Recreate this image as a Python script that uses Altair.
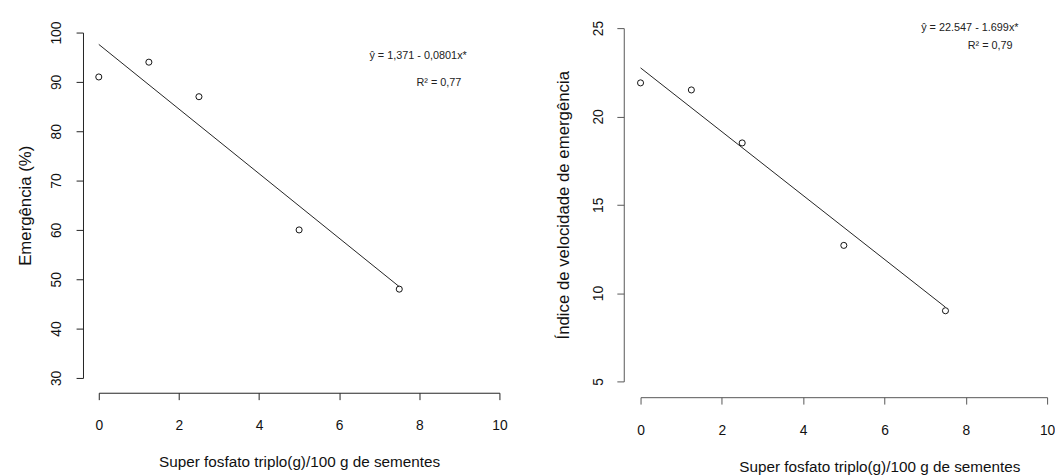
import altair as alt
import pandas as pd

# ---- data ----
dose = [0, 1.25, 2.5, 5, 7.5]
emergencia = [91, 94, 87, 60, 48]
ive = [21.9, 21.5, 18.5, 12.7, 9.0]
fit_dose = [0, 7.5]
fit_emergencia = [97.6, 48.5]
fit_ive = [22.75, 9.2]
x_ticks = [0, 2, 4, 6, 8, 10]
y1_ticks = [30, 40, 50, 60, 70, 80, 90, 100]
y2_ticks = [5, 10, 15, 20, 25]
x_title = "Super fosfato triplo(g)/100 g de sementes"
y1_title = "Emergência  (%)"
y2_title = "Índice de velocidade de emergência"
eq1 = ["ŷ = 1,371 - 0,0801x*", "R² = 0,77"]
eq2 = ["ŷ = 22.547 - 1.699x*", "R² = 0,79"]

FONT = "Liberation Sans"


def panel(yvals, fit_y, y_dom, y_ticks, y_title, eq, eq_pos, w, h,
          xoff, yoff, x_title_x, axis_color, ylab_pad, xlab_pad, ytitle_x):
    pts = pd.DataFrame({"x": dose, "y": yvals})
    fit = pd.DataFrame({"x": fit_dose, "y": fit_y})
    xs = alt.Scale(domain=[0, 10], nice=False, zero=False)
    ys = alt.Scale(domain=y_dom, nice=False, zero=False)
    xa = alt.Axis(values=x_ticks, offset=xoff, grid=False, tickSize=7,
                  domainColor=axis_color, tickColor=axis_color,
                  labelFontSize=14, labelFont=FONT, labelColor="#111",
                  labelFlush=False, labelOverlap=False,
                  labelBaseline="middle", labelPadding=xlab_pad,
                  title=x_title, titleFont=FONT, titleFontSize=15.5,
                  titleFontWeight="normal", titleColor="#111",
                  titleY=70, titleX=x_title_x, titleBaseline="middle")
    ya = alt.Axis(values=y_ticks, offset=yoff, grid=False, tickSize=7,
                  domainColor=axis_color, tickColor=axis_color,
                  labelFontSize=14, labelFont=FONT, labelColor="#111",
                  labelFlush=False, labelOverlap=False,
                  labelAngle=270, labelAlign="center", labelBaseline="middle",
                  labelPadding=ylab_pad,
                  title=y_title, titleFont=FONT, titleFontSize=17,
                  titleFontWeight="normal", titleColor="#111",
                  titleX=ytitle_x, titleBaseline="middle")
    base_x = alt.X("x:Q", scale=xs, axis=xa)
    base_y = alt.Y("y:Q", scale=ys, axis=ya)
    line = alt.Chart(fit).mark_line(color="#222", strokeWidth=1).encode(
        x=base_x, y=base_y)
    circles = alt.Chart(pts).mark_point(
        shape="circle", filled=False, color="#111", size=38, strokeWidth=1,
        opacity=1).encode(x="x:Q", y="y:Q")
    t1 = alt.Chart(pd.DataFrame({"t": [eq[0]]})).mark_text(
        font=FONT, fontSize=11, color="#222").encode(
        x=alt.datum(eq_pos[0][0]), y=alt.datum(eq_pos[0][1]), text="t:N")
    t2 = alt.Chart(pd.DataFrame({"t": [eq[1]]})).mark_text(
        font=FONT, fontSize=11, color="#222").encode(
        x=alt.datum(eq_pos[1][0]), y=alt.datum(eq_pos[1][1]), text="t:N")
    return alt.layer(line, circles, t1, t2).properties(width=w, height=h)


left = panel(emergencia, fit_emergencia, [30, 100], y1_ticks, y1_title, eq1,
             [(7.97, 95.2), (8.49, 89.7)], 406, 350, 15, 16, 203,
             "#222", 20, 26, -58)
right = panel(ive, fit_ive, [5, 25], y2_ticks, y2_title, eq2,
              [(8.1, 25.0), (8.6, 24.0)], 412, 358, 16, 17, 242,
              "#555", 19, 27, -61)

chart = alt.hconcat(left, right, spacing=48, center=True).properties(
    padding={"left": 9, "top": 9, "right": 0, "bottom": 0},
    background="white",
).configure_view(stroke=None)

chart.save("out.html", embed_options={"renderer": "svg", "actions": False})
